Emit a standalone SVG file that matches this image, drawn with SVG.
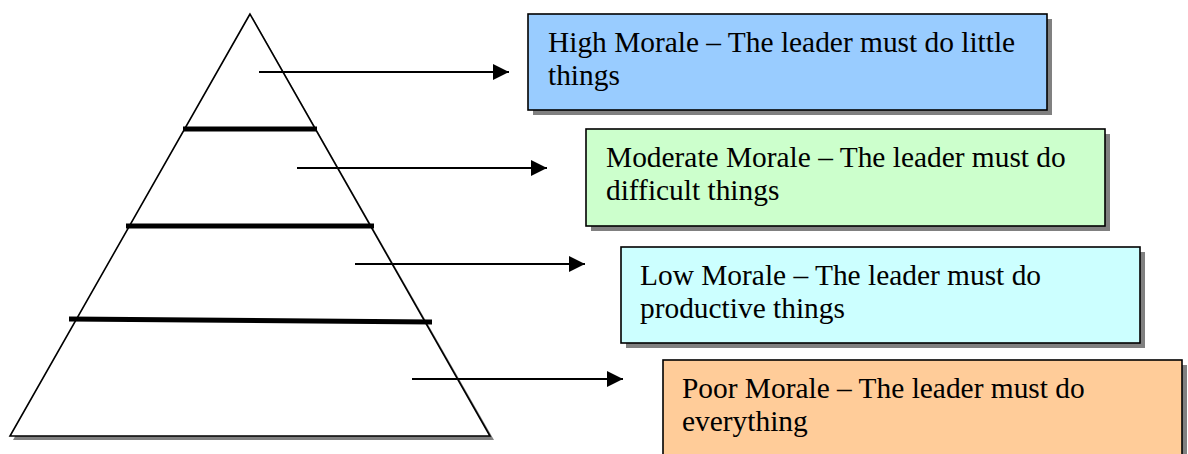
<svg xmlns="http://www.w3.org/2000/svg" width="1188" height="454" viewBox="0 0 1188 454">
<style>
.box{stroke:#000;stroke-width:1.6}
.shadow{fill:#808080}
.txt{font-family:"Liberation Serif","Times New Roman",serif;font-size:29.4px;fill:#000}
.bar{stroke:#000;stroke-width:5;fill:none}
.conn{stroke:#000;stroke-width:1.8;fill:none}
</style>
<defs>
<marker id="ah" markerUnits="userSpaceOnUse" markerWidth="16" markerHeight="16" refX="16" refY="8" orient="auto">
<path d="M0,0 L16,8 L0,16 Z" fill="#000"/>
</marker>
</defs>
<rect width="1188" height="454" fill="#fff"/>
<g id="pyramid">
<polygon points="253,18 13,440 494,440" fill="#808080"/>
<polygon points="250,14 10,436 490,436" fill="#fff" stroke="#000" stroke-width="1.6"/>
<line class="bar" x1="183" y1="129" x2="317" y2="129"/>
<line class="bar" x1="126" y1="226" x2="374" y2="226"/>
<line class="bar" x1="69" y1="319" x2="432" y2="322"/>
</g>
<g id="connectors">
<line class="conn" x1="259" y1="72" x2="509" y2="72" marker-end="url(#ah)"/>
<line class="conn" x1="297" y1="168" x2="547" y2="168" marker-end="url(#ah)"/>
<line class="conn" x1="355" y1="264" x2="585" y2="264" marker-end="url(#ah)"/>
<line class="conn" x1="412" y1="379" x2="623" y2="379" marker-end="url(#ah)"/>
</g>
<g id="high">
<rect class="shadow" x="533" y="19" width="519" height="96"/>
<rect class="box" x="528" y="14" width="519" height="96" fill="#99CCFF"/>
<text class="txt" x="548" y="52">High Morale – The leader must do little</text>
<text class="txt" x="548" y="85">things</text>
</g>
<g id="moderate">
<rect class="shadow" x="591" y="134" width="519" height="97"/>
<rect class="box" x="586" y="129" width="519" height="97" fill="#CCFFCC"/>
<text class="txt" x="606" y="167">Moderate Morale – The leader must do</text>
<text class="txt" x="606" y="200">difficult things</text>
</g>
<g id="low">
<rect class="shadow" x="626" y="252" width="519" height="96"/>
<rect class="box" x="621" y="247" width="519" height="96" fill="#CCFFFF"/>
<text class="txt" x="640" y="285">Low Morale – The leader must do</text>
<text class="txt" x="640" y="318">productive things</text>
</g>
<g id="poor">
<rect class="shadow" x="668" y="365" width="519" height="100"/>
<rect class="box" x="663" y="360" width="519" height="100" fill="#FFCC99"/>
<text class="txt" x="682" y="398">Poor Morale – The leader must do</text>
<text class="txt" x="682" y="431">everything</text>
</g>
</svg>
